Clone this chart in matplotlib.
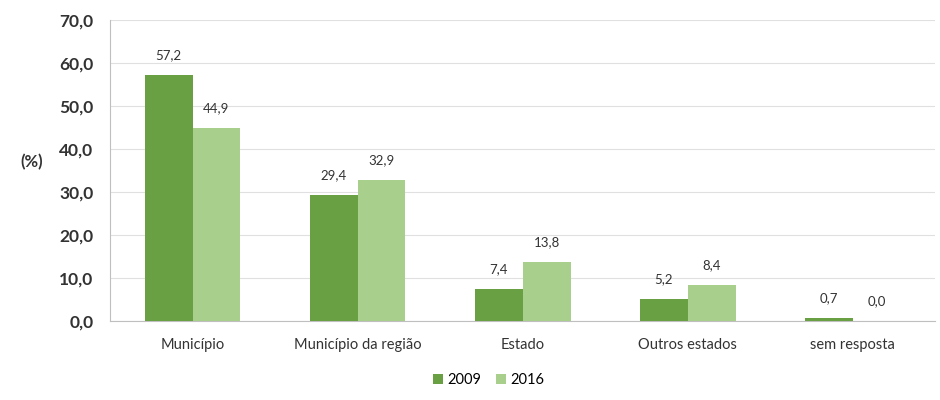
import numpy as np
from matplotlib import pyplot as plt

categories = ["Município", "Município da região", "Estado", "Outros estados", "sem resposta"]
values_2009 = [57.2, 29.4, 7.4, 5.2, 0.7]
values_2016 = [44.9, 32.9, 13.8, 8.4, 0.0]
series_labels = ["2009", "2016"]

plt.rcParams["font.family"] = ["Lato", "DejaVu Sans"]

fig = plt.figure(figsize=(9.4, 4.0), dpi=100)
ax = fig.add_axes([0.117, 0.197, 0.878, 0.753])

x = np.arange(len(categories))
width = 0.29
color_2009 = "#68a043"
color_2016 = "#a8cf8c"

bars1 = ax.bar(x - width / 2, values_2009, width, color=color_2009, label=series_labels[0], zorder=3)
bars2 = ax.bar(x + width / 2, values_2016, width, color=color_2016, label=series_labels[1], zorder=3)

for bars in (bars1, bars2):
    for b in bars:
        h = b.get_height()
        ax.annotate(f"{h:.1f}".replace(".", ","), (b.get_x() + b.get_width() / 2, h),
                    xytext=(0, 10), textcoords="offset points", ha="center", va="bottom",
                    fontsize=9.5, color="#333333")

ax.set_xlim(-0.5, len(categories) - 0.5)
ax.set_ylim(0, 70)
ax.set_yticks(np.arange(0, 71, 10))
ax.set_yticklabels([f"{v:.1f}".replace(".", ",") for v in np.arange(0, 71, 10)],
                   fontsize=12.5, color="#333333", fontweight="bold")
ax.set_xticks(x)
ax.set_xticklabels(categories, fontsize=10.5, color="#333333")
ax.tick_params(axis="both", length=0)
ax.tick_params(axis="x", pad=12)
ax.tick_params(axis="y", pad=12)

ax.grid(axis="y", color="#e0e0e0", linewidth=0.8, zorder=0)
for side in ("top", "right"):
    ax.spines[side].set_visible(False)
ax.spines["left"].set_color("#bfbfbf")
ax.spines["bottom"].set_color("#bfbfbf")

ax.set_ylabel("(%)", rotation=0, fontsize=12, color="#333333", fontweight="bold")
ax.yaxis.set_label_coords(-0.095, 0.50)

fig.legend(loc="lower center", bbox_to_anchor=(0.52, 0.0), ncol=2, frameon=False,
           fontsize=10.5, handlelength=0.7, handleheight=0.7, handletextpad=0.3, columnspacing=1.0)

fig.savefig("out.png", dpi=100)
